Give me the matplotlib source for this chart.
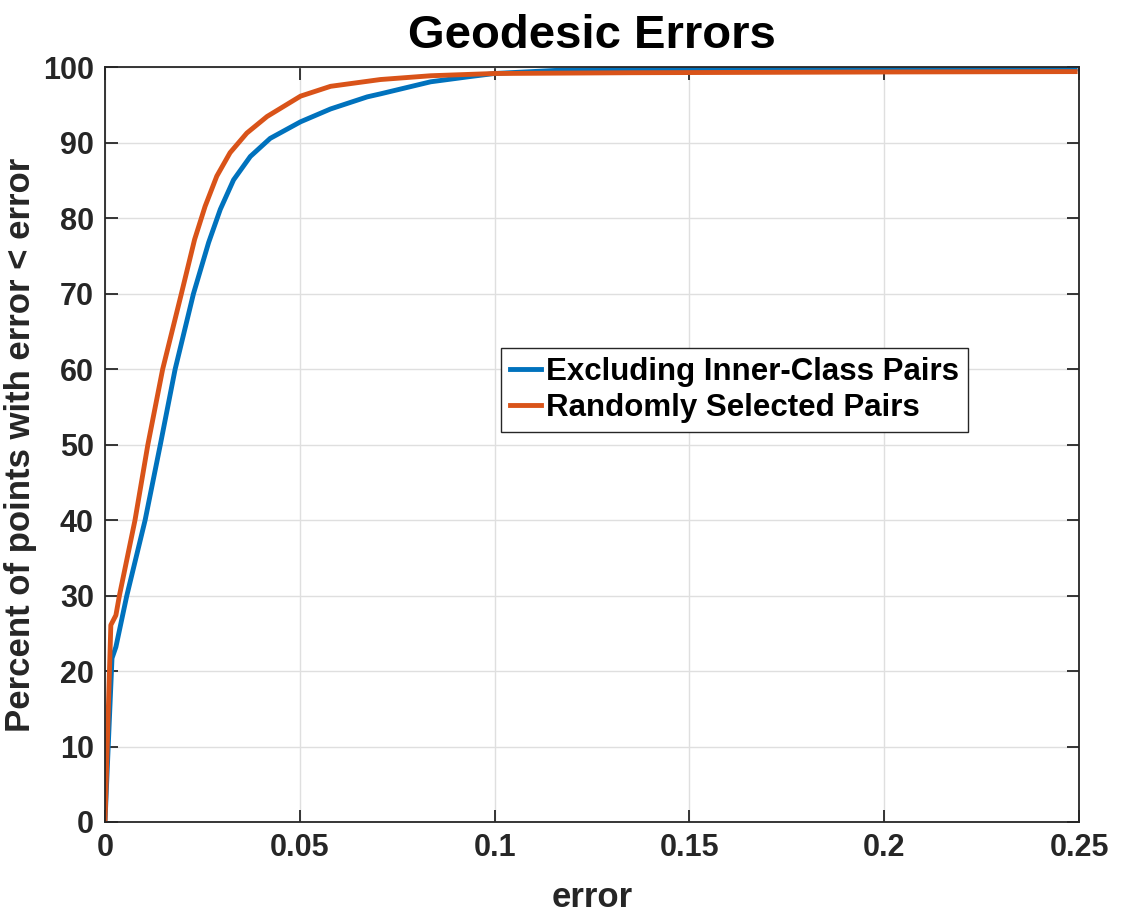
import matplotlib
matplotlib.use("Agg")
import matplotlib.pyplot as plt

plt.rcParams['font.family'] = ['Liberation Sans', 'DejaVu Sans']
plt.rcParams['font.weight'] = 'bold'

# Data
blue_x = [0, 0.0018, 0.0028, 0.0056, 0.0103, 0.0142, 0.018, 0.0227, 0.0266, 0.0296,
          0.033, 0.0373, 0.0424, 0.0502, 0.0579, 0.0673, 0.0707, 0.0836, 0.0938, 0.1,
          0.1154, 0.135, 0.2, 0.249]
blue_y = [0, 21.7, 23.2, 30, 40, 50, 60, 70, 76.8, 81.2,
          85.1, 88.2, 90.6, 92.8, 94.5, 96.1, 96.5, 98.1, 98.8, 99.2,
          99.6, 99.8, 99.8, 99.8]
orange_x = [0, 0.0015, 0.0028, 0.0037, 0.0077, 0.011, 0.0148, 0.0196, 0.023, 0.0257,
            0.0287, 0.0321, 0.0364, 0.0416, 0.0502, 0.0579, 0.0707, 0.0836, 0.1, 0.135,
            0.2, 0.249]
orange_y = [0, 26.1, 27.4, 30, 40, 50, 60, 70, 77.2, 81.6,
            85.6, 88.7, 91.3, 93.5, 96.2, 97.5, 98.4, 98.9, 99.2, 99.3,
            99.4, 99.45]
labels = ['Excluding Inner-Class Pairs', 'Randomly Selected Pairs']
xticks = [0, 0.05, 0.1, 0.15, 0.2, 0.25]
xticklabels = ['0', '0.05', '0.1', '0.15', '0.2', '0.25']
yticks = list(range(0, 101, 10))

fig = plt.figure(figsize=(11.35, 9.24), dpi=100)
ax = fig.add_axes([0.0925, 0.1104, 0.8582, 0.8166])

ax.plot(blue_x, blue_y, color='#0072BD', lw=3.5, label=labels[0],
        solid_joinstyle='round')
ax.plot(orange_x, orange_y, color='#D95319', lw=3.5, label=labels[1],
        solid_joinstyle='round')

ax.set_xlim(0, 0.25)
ax.set_ylim(0, 100)
ax.set_xticks(xticks)
ax.set_xticklabels(xticklabels)
ax.set_yticks(yticks)
ax.grid(True, color='#DFDFDF', lw=1)
ax.set_axisbelow(True)
ax.tick_params(direction='in', top=True, right=True, length=9, width=1.3,
               labelsize=22, colors='#262626', pad=8)
for lab in ax.get_xticklabels() + ax.get_yticklabels():
    lab.set_fontweight('bold')
for s in ax.spines.values():
    s.set_color('#262626')
    s.set_linewidth(1.3)

ax.set_title('Geodesic Errors', fontsize=34, fontweight='bold', color='black', pad=14)
ax.set_xlabel('error', fontsize=25, fontweight='bold', color='#262626', labelpad=13)
ax.set_ylabel('Percent of points with error < error', fontsize=25, fontweight='bold',
              color='#262626', labelpad=4)

leg = ax.legend(loc='upper left', bbox_to_anchor=(0.407, 0.628), borderaxespad=0,
                fancybox=False, edgecolor='#262626', framealpha=1,
                prop={'size': 22.5, 'weight': 'bold'}, handlelength=1.0,
                handletextpad=0.15, borderpad=0.28, labelspacing=0.2)
leg.get_frame().set_linewidth(1.0)

fig.savefig('out.png', dpi=100)
